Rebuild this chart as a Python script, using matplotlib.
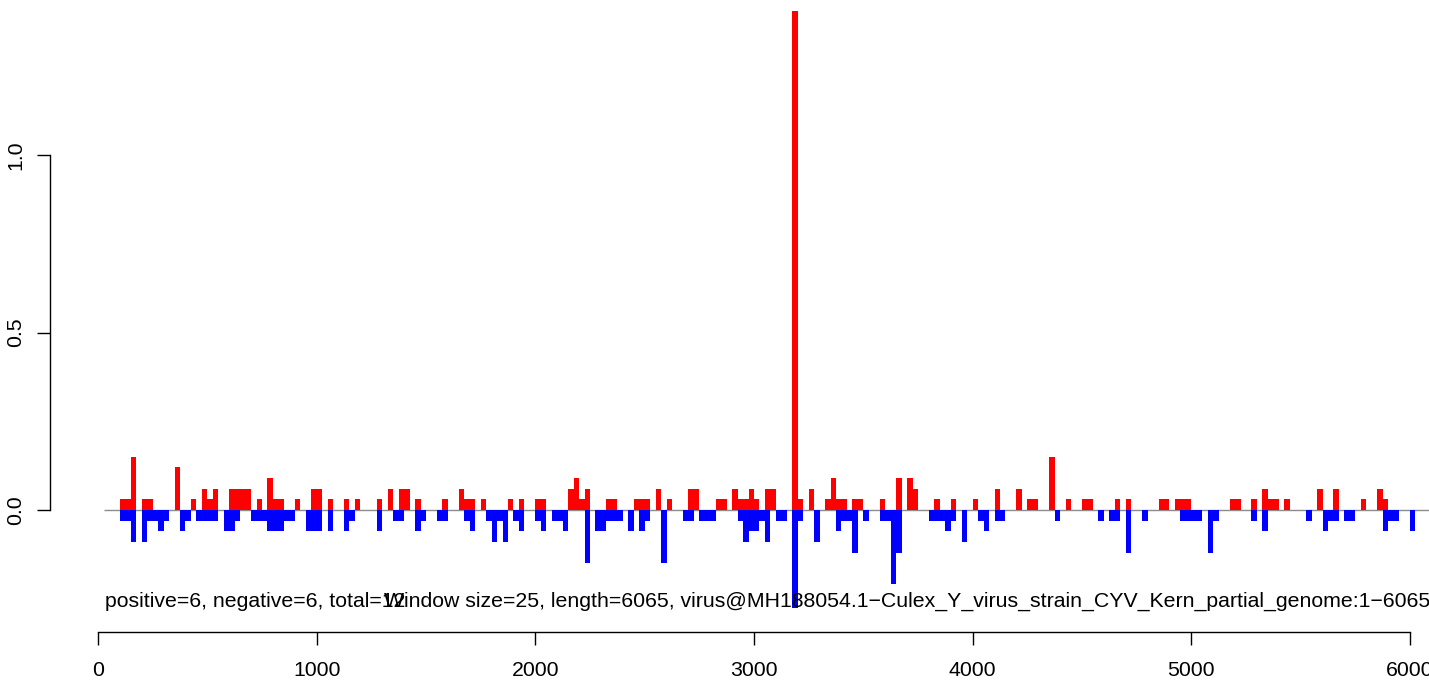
import matplotlib
matplotlib.use("Agg")
import matplotlib.pyplot as plt

plt.rcParams['font.family'] = ['Liberation Sans', 'DejaVu Sans']

# ---- data -------------------------------------------------------------
window_size = 25
# window index -> value (window covers [index*25, index*25+25])
pos_index = [4, 5, 6, 8, 9, 14, 17, 19, 20, 21, 24, 25, 26, 27, 29, 31, 32, 33, 36, 39, 40, 42,
             45, 47, 51, 53, 55, 56, 58, 63, 66, 67, 68, 70, 75, 77, 80, 81, 86, 87,
             88, 89, 93, 94, 98, 99, 100, 102, 104, 108, 109, 113, 114, 116, 117, 118, 119, 120,
             122, 123, 127, 128, 130,
             133, 134, 135, 136, 138, 139, 143, 146, 148, 149, 153, 156, 160, 164, 168, 170, 171, 174,
             177, 180, 181, 186, 188, 194, 195, 197, 198, 199, 207, 208, 211, 213, 214, 215, 217,
             223, 226, 231, 234, 235]
pos_value = [0.03, 0.03, 0.15, 0.03, 0.03, 0.12, 0.03, 0.06, 0.03, 0.06, 0.06, 0.06, 0.06, 0.06, 0.03, 0.09, 0.03, 0.03, 0.03, 0.06, 0.06, 0.03,
             0.03, 0.03, 0.03, 0.06, 0.06, 0.06, 0.03, 0.03, 0.06, 0.03, 0.03, 0.03, 0.03, 0.03, 0.03, 0.03, 0.06, 0.09,
             0.03, 0.06, 0.03, 0.03, 0.03, 0.03, 0.03, 0.06, 0.03, 0.06, 0.06, 0.03, 0.03, 0.06, 0.03, 0.03, 0.06, 0.03,
             0.06, 0.06, 1.407, 0.03, 0.06,
             0.03, 0.09, 0.03, 0.03, 0.03, 0.03, 0.03, 0.09, 0.09, 0.06, 0.03, 0.03, 0.03, 0.06, 0.06, 0.03, 0.03, 0.15,
             0.03, 0.03, 0.03, 0.03, 0.03, 0.03, 0.03, 0.03, 0.03, 0.03, 0.03, 0.03, 0.03, 0.06, 0.03, 0.03, 0.03,
             0.06, 0.06, 0.03, 0.06, 0.03]

neg_index = [4, 5, 6, 8, 9, 10, 11, 12, 15, 16, 18, 19, 20, 21, 23, 24, 25, 28, 29, 30, 31, 32, 33, 34, 35, 38, 39, 40, 42,
             45, 46, 51, 54, 55, 58, 59, 62, 63, 67, 68, 71, 72, 73, 74, 76, 77, 80, 81, 83, 84, 85,
             89, 91, 92, 93, 94, 95, 97, 99, 100, 103, 107, 108, 110, 111, 112, 117, 118, 119, 120, 121, 122,
             124, 125, 127, 128, 131,
             135, 136, 137, 138, 140, 143, 144, 145, 146, 152, 153, 154, 155, 156, 158, 161, 162, 164, 165, 175,
             183, 185, 186, 188, 191, 198, 199, 200, 201, 203, 204, 211, 213, 221, 224, 225, 226, 228, 229,
             235, 236, 237, 240]
neg_value = [-0.03, -0.03, -0.09, -0.09, -0.03, -0.03, -0.06, -0.03, -0.06, -0.03, -0.03, -0.03, -0.03, -0.03, -0.06, -0.06, -0.03,
             -0.03, -0.03, -0.03, -0.06, -0.06, -0.06, -0.03, -0.03, -0.06, -0.06, -0.06, -0.06,
             -0.06, -0.03, -0.06, -0.03, -0.03, -0.06, -0.03, -0.03, -0.03, -0.03, -0.06, -0.03, -0.09, -0.03, -0.09,
             -0.03, -0.06, -0.03, -0.06, -0.03, -0.03, -0.06,
             -0.15, -0.06, -0.06, -0.03, -0.03, -0.03, -0.06, -0.06, -0.03, -0.15, -0.03, -0.03, -0.03, -0.03, -0.03,
             -0.03, -0.09, -0.06, -0.06, -0.03, -0.09,
             -0.03, -0.03, -0.275, -0.03, -0.09,
             -0.06, -0.03, -0.03, -0.12, -0.03, -0.03, -0.03, -0.21, -0.12, -0.03, -0.03, -0.03, -0.06, -0.03, -0.09,
             -0.03, -0.06, -0.03, -0.03, -0.03,
             -0.03, -0.03, -0.03, -0.12, -0.03, -0.03, -0.03, -0.03, -0.03, -0.12, -0.03, -0.03, -0.06, -0.03, -0.06,
             -0.03, -0.03, -0.03, -0.03,
             -0.06, -0.03, -0.03, -0.06]

x_ticks = [0, 1000, 2000, 3000, 4000, 5000, 6000]
y_ticks = [0.0, 0.5, 1.0]
y_tick_labels = ["0.0", "0.5", "1.0"]
label_left = "positive=6, negative=6, total=12"
label_right = ("Window size=25, length=6065, "
               "virus@MH188054.1\u2212Culex_Y_virus_strain_CYV_Kern_partial_genome:1\u22126065")

# ---- figure -------------------------------------------------------------
W, H = 1429, 680
FS = 15.3
fig = plt.figure(figsize=(W / 100, H / 100), dpi=100)
ax = fig.add_axes([0, 0, 1, 1])

# pixel mapping: x=0 -> 98 px, 6000 -> 1410 px ; y=0 -> 510 px, 1.0 -> 155.3 px
sx = (1410 - 98) / 6000.0
sy = 354.7
ax.set_xlim(-98 / sx, (W - 98) / sx)
ax.set_ylim((510 - H) / sy, 510 / sy)

pos_x = [i * window_size for i in pos_index]
neg_x = [i * window_size for i in neg_index]

ax.hlines(0, 27, 6090, color="#8c8c8c", linewidth=1.0, zorder=1)
ax.bar(pos_x, pos_value, width=window_size, align="edge", color="#ff0000", linewidth=0, zorder=2)
ax.bar(neg_x, neg_value, width=window_size, align="edge", color="#0000ff", linewidth=0, zorder=2)

for s in ["top", "right"]:
    ax.spines[s].set_visible(False)
ax.spines["left"].set_position(("data", (50 - 98) / sx))
ax.spines["left"].set_bounds(0, 1.0)
ax.spines["bottom"].set_position(("data", (510 - 632) / sy))
ax.spines["bottom"].set_bounds(0, 6000)
for s in ["left", "bottom"]:
    ax.spines[s].set_linewidth(1.0)
    ax.spines[s].set_color("black")

ax.set_xticks(x_ticks)
ax.set_xticklabels([str(v) for v in x_ticks])
ax.set_yticks(y_ticks)
ax.set_yticklabels(y_tick_labels, rotation=90, va="center")
ax.tick_params(axis="both", direction="out", length=9.4, width=1.0, labelsize=FS, colors="black")
ax.tick_params(axis="x", pad=11.5)
ax.tick_params(axis="y", pad=8.5)

ax.text(32, (510 - 607) / sy, label_left, fontsize=FS, va="baseline", ha="left")
ax.text((384 - 98) / sx, (510 - 607) / sy, label_right, fontsize=FS, va="baseline", ha="left")

fig.savefig("out.png", dpi=100)
